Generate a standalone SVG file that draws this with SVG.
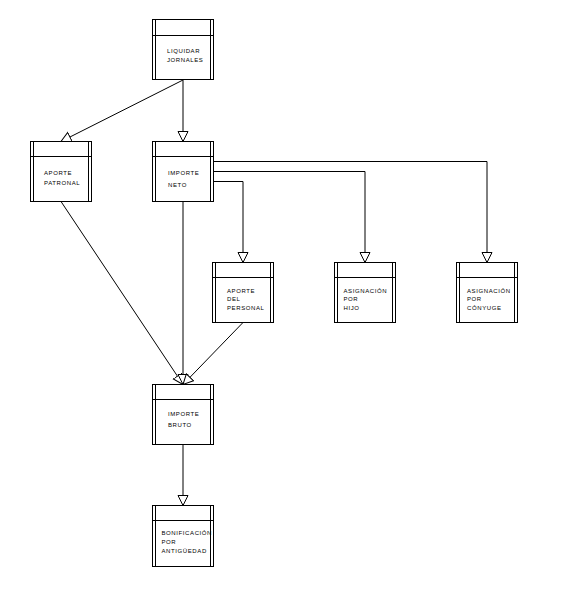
<svg xmlns="http://www.w3.org/2000/svg" width="566" height="597" viewBox="0 0 566 597">
<defs>
<style>
.box{fill:#fff;stroke:#000;stroke-width:1}
.ln{fill:none;stroke:#000;stroke-width:1}
.t{font-family:"Liberation Sans",Arial,sans-serif;font-size:6px;letter-spacing:0.6px;fill:#000}
</style>
<marker id="tri" markerUnits="userSpaceOnUse" markerWidth="12" markerHeight="12" viewBox="0 0 12 12" refX="10.5" refY="5.5" orient="auto">
<path d="M0.5,0.5 L10.5,5.5 L0.5,10.5 Z" fill="#fff" stroke="#000" stroke-width="1"/>
</marker>
</defs>
<rect width="566" height="597" fill="#fff"/>
<g id="connectors">
<path class="ln" d="M183,80 L61,141.5" marker-end="url(#tri)"/>
<path class="ln" d="M183,80 V141.5" marker-end="url(#tri)"/>
<path class="ln" d="M213.5,161.5 H487 V262.5" marker-end="url(#tri)"/>
<path class="ln" d="M213.5,171.5 H365 V262.5" marker-end="url(#tri)"/>
<path class="ln" d="M213.5,181.5 H243 V262.5" marker-end="url(#tri)"/>
<path class="ln" d="M61,201.5 L183,384.5" marker-end="url(#tri)"/>
<path class="ln" d="M183,201.5 V384.5" marker-end="url(#tri)"/>
<path class="ln" d="M243,322.5 L183,384.5" marker-end="url(#tri)"/>
<path class="ln" d="M183,444.5 V505.5" marker-end="url(#tri)"/>
</g>
<g id="liquidar">
<rect class="box" x="152.5" y="19.5" width="61" height="60"/>
<path class="ln" d="M155.5,19.5 V79.5 M210.5,19.5 V79.5 M152.5,35.5 H213.5"/>
<text class="t" x="167" y="53">LIQUIDAR</text>
<text class="t" x="167" y="62">JORNALES</text>
</g>
<g id="aporte_patronal">
<rect class="box" x="30.5" y="141.5" width="61" height="60"/>
<path class="ln" d="M33.5,141.5 V201.5 M88.5,141.5 V201.5 M30.5,156.5 H91.5"/>
<text class="t" x="44" y="175">APORTE</text>
<text class="t" x="44" y="184.5">PATRONAL</text>
</g>
<g id="importe_neto">
<rect class="box" x="152.5" y="141.5" width="61" height="60"/>
<path class="ln" d="M155.5,141.5 V201.5 M210.5,141.5 V201.5 M152.5,156.5 H213.5"/>
<text class="t" x="168" y="175">IMPORTE</text>
<text class="t" x="168" y="186.5">NETO</text>
</g>
<g id="aporte_personal">
<rect class="box" x="212.5" y="262.5" width="61" height="60"/>
<path class="ln" d="M215.5,262.5 V322.5 M270.5,262.5 V322.5 M212.5,277.5 H273.5"/>
<text class="t" x="227" y="292.5">APORTE</text>
<text class="t" x="227" y="301">DEL</text>
<text class="t" x="227" y="309.5">PERSONAL</text>
</g>
<g id="asignacion_hijo">
<rect class="box" x="334.5" y="262.5" width="61" height="60"/>
<path class="ln" d="M337.5,262.5 V322.5 M392.5,262.5 V322.5 M334.5,277.5 H395.5"/>
<text class="t" x="343.5" y="292.5">ASIGNACIÓN</text>
<text class="t" x="343.5" y="301">POR</text>
<text class="t" x="343.5" y="309.5">HIJO</text>
</g>
<g id="asignacion_conyuge">
<rect class="box" x="456.5" y="262.5" width="61" height="60"/>
<path class="ln" d="M459.5,262.5 V322.5 M514.5,262.5 V322.5 M456.5,277.5 H517.5"/>
<text class="t" x="467" y="292.5">ASIGNACIÓN</text>
<text class="t" x="467" y="301">POR</text>
<text class="t" x="467" y="309.5">CÓNYUGE</text>
</g>
<g id="importe_bruto">
<rect class="box" x="152.5" y="384.5" width="61" height="60"/>
<path class="ln" d="M155.5,384.5 V444.5 M210.5,384.5 V444.5 M152.5,399.5 H213.5"/>
<text class="t" x="168" y="415.5">IMPORTE</text>
<text class="t" x="168" y="427">BRUTO</text>
</g>
<g id="bonificacion">
<rect class="box" x="152.5" y="505.5" width="61" height="61"/>
<path class="ln" d="M155.5,505.5 V566.5 M210.5,505.5 V566.5 M152.5,520.5 H213.5"/>
<text class="t" x="161.5" y="535">BONIFICACIÓN</text>
<text class="t" x="161.5" y="544">POR</text>
<text class="t" x="161.5" y="553">ANTIGÜEDAD</text>
</g>
</svg>
